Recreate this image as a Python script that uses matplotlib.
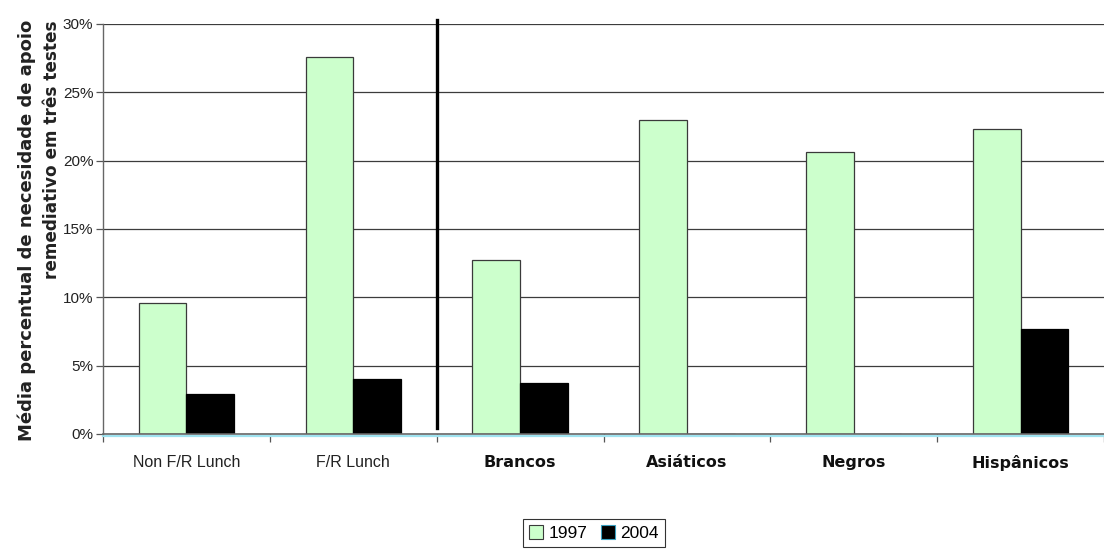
import numpy as np
import matplotlib
matplotlib.use('Agg')
import matplotlib.pyplot as plt
from matplotlib.patches import Patch

# média percentual por grupo
categorias = ['Non F/R Lunch', 'F/R Lunch', 'Brancos', 'Asiáticos', 'Negros', 'Hispânicos']
valores_1997 = [9.6, 27.6, 12.7, 23.0, 20.6, 22.3]
valores_2004 = [2.9, 4.0, 3.7, 0.0, 0.0, 7.7]
yticks = [0, 5, 10, 15, 20, 25, 30]

narrow = ['Liberation Sans Narrow', 'Liberation Sans', 'DejaVu Sans']

fig = plt.figure(figsize=(11.04, 5.49), dpi=100)
ax = fig.add_axes([0.0933, 0.2095, 0.9067, 0.7468])

x = np.arange(len(categorias))
w = 0.286
ax.bar(x - w / 2, valores_1997, w, color='#ccffcc', edgecolor='#3a3a3a', linewidth=0.9, zorder=3)
ax.bar(x + w / 2, valores_2004, w, color='black', edgecolor='black', linewidth=0.9, zorder=3)

ax.set_xlim(-0.5, len(categorias) - 0.5)
ax.set_ylim(0, 30)

# linhas de grade horizontais
for v in yticks[1:]:
    ax.axhline(v, color='#3c3c3c', lw=0.9, zorder=1)

# separador entre os dois blocos
ax.plot([1.5, 1.5], [0.45, 30.3], color='black', lw=2.4, clip_on=False, zorder=4)

ax.set_yticks(yticks)
ax.set_yticklabels([f'{v}%' for v in yticks], family=narrow, fontsize=11, color='#222222')
ax.tick_params(axis='y', direction='out', length=5, width=0.9, color='#555555', pad=2)

ax.set_xticks(x)
ax.tick_params(axis='x', length=0, pad=15)
labs = ax.set_xticklabels(categorias)
for i, t in enumerate(labs):
    if i < 2:
        t.set_family(narrow)
        t.set_fontsize(11.5)
        t.set_color('#222222')
    else:
        t.set_family('DejaVu Sans')
        t.set_fontweight('bold')
        t.set_fontsize(11.5)
        t.set_color('#111111')
ax.set_xticks(np.arange(-0.5, len(categorias), 1), minor=True)
ax.tick_params(axis='x', which='minor', direction='out', length=6, width=0.9, color='#555555')

for s in ['top', 'right']:
    ax.spines[s].set_visible(False)
ax.spines['left'].set_color('#666666')
ax.spines['left'].set_linewidth(1.0)
ax.spines['bottom'].set_color('#666666')
ax.spines['bottom'].set_linewidth(1.2)
ax.spines['bottom'].set_zorder(5)
# faixa azul clara sob o eixo
ax.axhline(-0.12, color='#9fe3f0', lw=1.6, clip_on=False, zorder=2)

fig.text(0.0245, 0.581, 'Média percentual de necesidade de apoio', rotation=90,
         ha='center', va='center', fontsize=13, fontweight='bold', color='#222222')
fig.text(0.0470, 0.727, 'remediativo em três testes', rotation=90,
         ha='center', va='center', fontsize=12.2, fontweight='bold', color='#222222')

handles = [Patch(facecolor='#ccffcc', edgecolor='#3a3a3a', linewidth=0.8),
           Patch(facecolor='black', edgecolor='#3aa0c0', linewidth=0.8)]
leg = fig.legend(handles, ['1997', '2004'], loc='center', bbox_to_anchor=(0.538, 0.029),
                 ncol=2, frameon=True, fancybox=False, edgecolor='black',
                 prop={'family': narrow, 'size': 12.5}, handlelength=0.8, handleheight=0.8,
                 handletextpad=0.3, columnspacing=0.8, borderpad=0.35, borderaxespad=0)
leg.get_frame().set_linewidth(0.8)

fig.savefig('out.png', dpi=100)
